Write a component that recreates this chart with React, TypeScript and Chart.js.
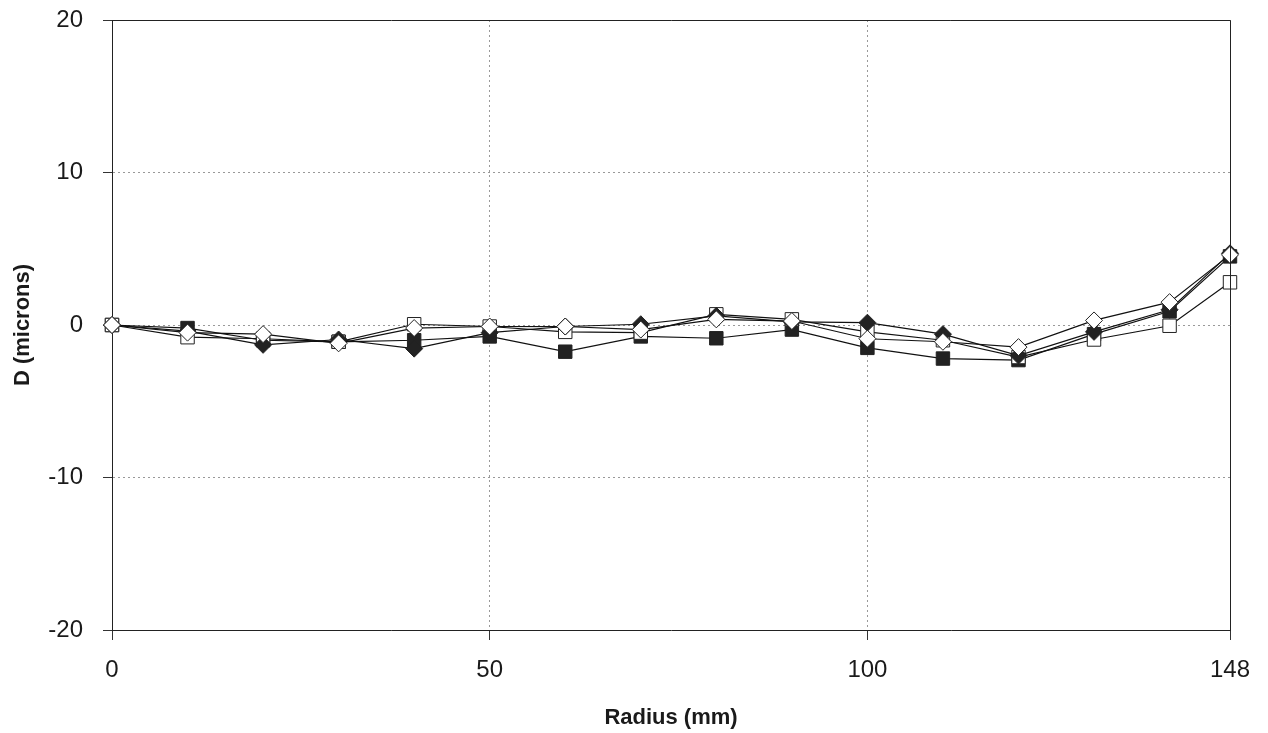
import React, { useEffect, useRef } from "react";
import { Chart, registerables } from "chart.js";

Chart.register(...registerables);

const radius = [0, 10, 20, 30, 40, 50, 60, 70, 80, 90, 100, 110, 120, 130, 140, 148];
const filledSquare = [0, -0.2, -1.0, -1.1, -1.0, -0.75, -1.75, -0.75, -0.87, -0.3, -1.5, -2.2, -2.3, -0.6, 0.9, 4.5];
const openSquare = [0, -0.8, -0.9, -1.1, 0.05, -0.1, -0.45, -0.5, 0.7, 0.37, -0.45, -1.0, -2.1, -0.95, -0.05, 2.8];
const filledDiamond = [0, -0.4, -1.3, -0.95, -1.55, -0.5, -0.1, 0.05, 0.6, 0.2, 0.15, -0.6, -2.0, -0.45, 1.0, 4.7];
const openDiamond = [0, -0.5, -0.6, -1.2, -0.2, -0.1, -0.1, -0.3, 0.37, 0.26, -0.9, -1.1, -1.45, 0.3, 1.5, 4.6];
const xTicks = [0, 50, 100, 148];
const yTicks = [-20, -10, 0, 10, 20];

const toPoints = (ys: number[]) => radius.map((x, i) => ({ x, y: ys[i] }));

const FONT = "'Liberation Sans', Arial, Helvetica, sans-serif";

const borderPlugin = {
  id: "plotBorder",
  afterDatasetsDraw(chart: any) {
    const { ctx, chartArea } = chart;
    ctx.save();
    ctx.setLineDash([]);
    ctx.strokeStyle = "#222";
    ctx.lineWidth = 1;
    ctx.beginPath();
    ctx.moveTo(chartArea.left, chartArea.top + 0.5);
    ctx.lineTo(chartArea.right + 0.5, chartArea.top + 0.5);
    ctx.lineTo(chartArea.right + 0.5, chartArea.bottom);
    ctx.stroke();
    ctx.restore();
  },
};

export default function App() {
  const ref = useRef<HTMLCanvasElement | null>(null);
  useEffect(() => {
    if (!ref.current) return;
    const mk = (label: string, ys: number[], style: string, fill: boolean, r: number, order: number) => ({
      label,
      data: toPoints(ys),
      showLine: true,
      clip: false,
      borderColor: "#111",
      borderWidth: 1.2,
      pointStyle: style,
      pointRadius: r,
      pointBackgroundColor: fill ? "#222" : "#fff",
      pointBorderColor: "#222",
      pointBorderWidth: 1,
      order,
    });
    const chart = new Chart(ref.current, {
      type: "scatter",
      data: {
        datasets: [
          mk("Series 1", filledSquare, "rect", true, 9.5, 4),
          mk("Series 2", openSquare, "rect", false, 9.5, 3),
          mk("Series 3", filledDiamond, "rectRot", true, 8.5, 2),
          mk("Series 4", openDiamond, "rectRot", false, 8.5, 1),
        ],
      },
      options: {
        animation: false,
        responsive: false,
        layout: { padding: { top: 20, right: 38, left: 0, bottom: 0 } },
        plugins: { legend: { display: false }, tooltip: { enabled: false } },
        scales: {
          x: {
            type: "linear",
            min: 0,
            max: 148,
            afterBuildTicks: (s: any) => {
              s.ticks = xTicks.map((v) => ({ value: v }));
            },
            afterFit: (s: any) => {
              s.height = 103;
              s.paddingLeft = 0;
              s.paddingRight = 0;
            },
            grid: {
              color: "#999",
              tickLength: 10,
              tickColor: "#333",
              tickBorderDash: [],
              tickWidth: 1,
            },
            border: { display: true, color: "#222", width: 1, dash: [2, 3] },
            ticks: {
              color: "#1a1a1a",
              font: { family: FONT, size: 24 },
              padding: 16,
              maxRotation: 0,
              callback: (v: any) => String(v),
            },
            title: {
              display: true,
              text: "Radius (mm)",
              color: "#1a1a1a",
              font: { family: FONT, size: 22, weight: "bold" },
              padding: { top: 0, bottom: 2 },
            },
          },
          y: {
            type: "linear",
            min: -20,
            max: 20,
            afterBuildTicks: (s: any) => {
              s.ticks = yTicks.map((v) => ({ value: v }));
            },
            afterFit: (s: any) => {
              s.width = 112;
              s.paddingTop = 0;
              s.paddingBottom = 0;
            },
            grid: {
              color: "#999",
              tickLength: 9,
              tickColor: "#333",
              tickBorderDash: [],
              tickWidth: 1,
            },
            border: { display: true, color: "#222", width: 1, dash: [2, 3] },
            ticks: {
              color: "#1a1a1a",
              font: { family: FONT, size: 24 },
              padding: 20,
              callback: (v: any) => String(v),
            },
            title: {
              display: true,
              text: "D (microns)",
              color: "#1a1a1a",
              font: { family: FONT, size: 22, weight: "bold" },
              padding: { top: 10, bottom: 0 },
            },
          },
        },
      },
      plugins: [borderPlugin],
    } as any);
    return () => chart.destroy();
  }, []);
  return (
    <div style={{ position: "absolute", left: 0, top: 0, width: 1268, height: 733, background: "#fff" }}>
      <canvas ref={ref} width={1268} height={733} style={{ width: 1268, height: 733, display: "block" }} />
    </div>
  );
}
